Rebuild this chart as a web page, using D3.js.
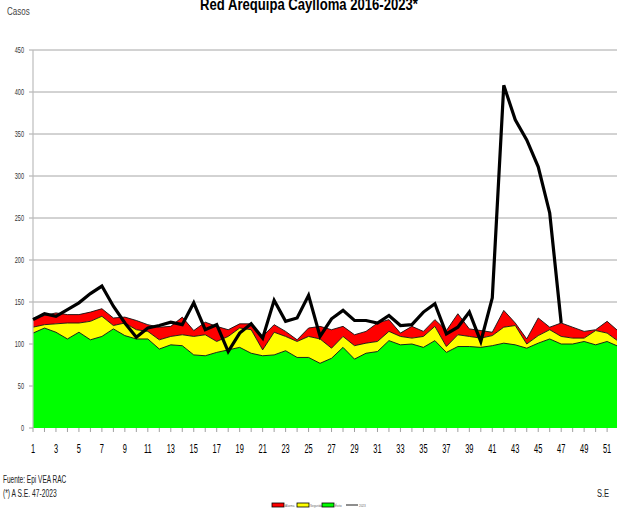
<!DOCTYPE html>
<html><head><meta charset="utf-8">
<script src="https://cdn.jsdelivr.net/npm/d3@7"></script>
<style>html,body{margin:0;padding:0;background:#fff;overflow:hidden}</style>
</head><body>
<svg id="c" width="617" height="510"></svg>
<script>
const weeks = d3.range(1, 53);
const xTickLabels = d3.range(1, 53, 2);
const yTicks = [0, 50, 100, 150, 200, 250, 300, 350, 400, 450];
// cumulative upper limits of each zone (casos)
const exito = [113,119,114,106,114,105,109,118,110,106,106,94,99,98,87,86,90,93,96,89,86,87,92,84,84,77,83,96,82,89,91,104,99,100,96,104,90,97,97,96,98,101,99,95,101,106,100,100,103,99,103,97];
const seguridad = [120,123,124,125,125,127,133,122,125,117,115,105,109,111,109,111,103,109,119,117,93,114,109,103,109,106,95,109,98,101,103,115,109,107,109,121,97,111,109,107,110,120,122,100,110,117,109,107,107,116,113,103];
const alarma = [131,134,137,135,135,138,142,131,132,128,123,120,121,132,116,126,121,117,124,124,109,123,115,105,119,121,117,121,111,115,125,129,113,121,115,129,116,136,118,116,114,140,125,106,131,120,125,120,115,117,127,115];
const casos2023 = [129,136,133,141,149,160,169,145,125,108,119,122,126,123,149,117,123,91,113,124,107,152,127,131,158,109,130,140,128,128,125,134,122,123,138,148,112,120,138,103,155,408,367,343,311,256,125];
const legendLabels = ["Alarma", "Seguridad", "Éxito", "2023"];

const svg = d3.select("#c");
const font = "'Liberation Sans',Arial,sans-serif";
const x = d3.scaleLinear().domain([1, 52]).range([33, 618.6]);
const y = d3.scaleLinear().domain([0, 450]).range([428, 50]);

function squeeze(sel, f) {
  sel.each(function () {
    const len = this.getComputedTextLength();
    if (len > 0) d3.select(this).attr("textLength", len * f).attr("lengthAdjust", "spacingAndGlyphs");
  });
}

// gridlines
svg.append("g").selectAll("line").data(yTicks.filter(d => d > 0)).join("line")
  .attr("x1", 29).attr("x2", 617).attr("y1", d => y(d)).attr("y2", d => y(d))
  .attr("stroke", "#a6a6a6").attr("stroke-width", 1);

// areas
const band = (lo, hi, color) => {
  const a = d3.area().x((d, i) => x(weeks[i])).y0((d, i) => y(lo ? lo[i] : 0)).y1((d, i) => y(hi[i]));
  svg.append("path").datum(hi).attr("d", a).attr("fill", color);
};
band(seguridad, alarma, "#ff0000");
band(exito, seguridad, "#ffff00");
band(null, exito, "#00ff00");
const topLine = (arr) => svg.append("path").datum(arr)
  .attr("d", d3.line().x((d, i) => x(weeks[i])).y(d => y(d)))
  .attr("fill", "none").attr("stroke", "#111").attr("stroke-width", 0.9);
topLine(alarma); topLine(seguridad); topLine(exito);

// y axis line
svg.append("line").attr("x1", 33).attr("x2", 33).attr("y1", y(450)).attr("y2", y(0))
  .attr("stroke", "#bdbdbd").attr("stroke-width", 1.2);
// x tick marks
svg.append("g").selectAll("line").data(weeks).join("line")
  .attr("x1", d => x(d)).attr("x2", d => x(d)).attr("y1", 428).attr("y2", 432)
  .attr("stroke", "#a0a0a0");
svg.append("line").attr("x1", 29).attr("x2", 33).attr("y1", 428).attr("y2", 428).attr("stroke", "#a0a0a0");

// 2023 line
svg.append("path").datum(casos2023)
  .attr("d", d3.line().x((d, i) => x(weeks[i])).y(d => y(d)))
  .attr("fill", "none").attr("stroke", "#000").attr("stroke-width", 3.2).attr("stroke-linejoin", "miter");

// y tick labels
svg.append("g").selectAll("text").data(yTicks).join("text")
  .attr("x", 24).attr("y", d => y(d) + 3).attr("text-anchor", "end")
  .attr("font-family", font).attr("font-size", 9).attr("fill", "#333").text(d => d)
  .call(squeeze, 0.62);
// x tick labels
svg.append("g").selectAll("text").data(xTickLabels).join("text")
  .attr("x", d => x(d)).attr("y", 453).attr("text-anchor", "middle")
  .attr("font-family", font).attr("font-size", 12).attr("fill", "#000").text(d => d)
  .call(squeeze, 0.62);

// title & labels
svg.append("text").attr("x", 309).attr("y", 10).attr("text-anchor", "middle")
  .attr("font-family", font).attr("font-weight", "bold").attr("font-size", 17)
  .attr("fill", "#000").text("Red Arequipa Caylloma 2016-2023*").call(squeeze, 0.77);
svg.append("text").attr("x", 7).attr("y", 15).attr("font-family", font)
  .attr("font-size", 10).attr("fill", "#444").text("Casos").call(squeeze, 0.8);
svg.append("text").attr("x", 3).attr("y", 483).attr("font-family", font)
  .attr("font-size", 10).attr("fill", "#222").text("Fuente:  Epi VEA RAC").call(squeeze, 0.65);
svg.append("text").attr("x", 3).attr("y", 497).attr("font-family", font)
  .attr("font-size", 10).attr("fill", "#222").text("(*) A S.E. 47-2023").call(squeeze, 0.67);
svg.append("text").attr("x", 597).attr("y", 497).attr("font-family", font)
  .attr("font-size", 10).attr("fill", "#222").text("S.E").call(squeeze, 0.75);

// legend
const colors = ["#ff0000", "#ffff00", "#00ff00"];
const lx = [272, 297, 322];
colors.forEach((c, i) => {
  svg.append("rect").attr("x", lx[i]).attr("y", 503).attr("width", 12).attr("height", 4)
    .attr("fill", c).attr("stroke", "#000").attr("stroke-width", 0.8);
  svg.append("text").attr("x", lx[i] + 13).attr("y", 507).attr("font-family", font)
    .attr("font-size", 3).attr("fill", "#666").text(legendLabels[i]);
});
svg.append("line").attr("x1", 346).attr("x2", 358).attr("y1", 505).attr("y2", 505)
  .attr("stroke", "#444").attr("stroke-width", 1.2);
svg.append("text").attr("x", 359).attr("y", 507).attr("font-family", font)
  .attr("font-size", 3).attr("fill", "#666").text(legendLabels[3]);
</script>
</body></html>
